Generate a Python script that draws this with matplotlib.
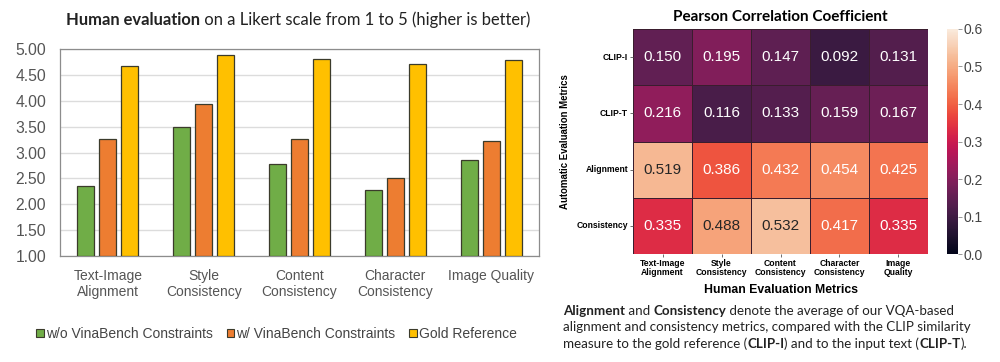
import matplotlib
matplotlib.use("Agg")
import matplotlib.pyplot as plt
import numpy as np
import seaborn as sns
from matplotlib.patches import Patch

# ---------------- data ----------------
categories = ["Text-Image\nAlignment", "Style\nConsistency", "Content\nConsistency",
              "Character\nConsistency", "Image Quality"]
series_names = ["w/o VinaBench Constraints", "w/ VinaBench Constraints", "Gold Reference"]
wo_vina = [2.35, 3.49, 2.78, 2.27, 2.85]
w_vina = [3.26, 3.93, 3.26, 2.51, 3.22]
gold = [4.68, 4.89, 4.81, 4.72, 4.79]
ytick_vals = [1.0, 1.5, 2.0, 2.5, 3.0, 3.5, 4.0, 4.5, 5.0]

heat_rows = ["CLIP-I", "CLIP-T", "Alignment", "Consistency"]
heat_cols = ["Text-Image\nAlignment", "Style\nConsistency", "Content\nConsistency",
             "Character\nConsistency", "Image\nQuality"]
clip_i = [0.150, 0.195, 0.147, 0.092, 0.131]
clip_t = [0.216, 0.116, 0.133, 0.159, 0.167]
alignment = [0.519, 0.386, 0.432, 0.454, 0.425]
consistency = [0.335, 0.488, 0.532, 0.417, 0.335]
cbar_ticks = [0.0, 0.1, 0.2, 0.3, 0.4, 0.5, 0.6]

colors = ["#70AD47", "#ED7D31", "#FFC000"]
edge = "#3b3b2b"

fig = plt.figure(figsize=(10, 3.62), dpi=100)

# ---------------- bar chart ----------------
ax = fig.add_axes([0.060, 0.2928, 0.479, 0.5718])
x = np.arange(len(categories))
w = 0.177
step = 0.229
for i, (vals, c) in enumerate(zip([wo_vina, w_vina, gold], colors)):
    ax.bar(x + (i - 1) * step, np.array(vals) - 1.0, bottom=1.0, width=w,
           color=c, edgecolor=edge, linewidth=0.9, zorder=3)
ax.set_xlim(-0.5, len(categories) - 0.5)
ax.set_ylim(1.0, 5.0)
ax.set_yticks(ytick_vals)
ax.set_yticklabels([f"{v:.2f}" for v in ytick_vals], fontsize=11.3,
                   family="Liberation Sans", color="#555555")
ax.set_xticks(x)
ax.set_xticklabels(categories, fontsize=10, family="Liberation Sans", color="#555555",
                   linespacing=1.2)
ax.tick_params(axis="y", length=0, pad=10)
ax.tick_params(axis="x", length=0, pad=9.5)
ax.grid(axis="y", color="#dcdcdc", linewidth=1.0, zorder=0)
for s in ax.spines.values():
    s.set_color("#8c8c8c")
    s.set_linewidth(0.9)

handles = [Patch(facecolor=c, edgecolor=edge, linewidth=0.8) for c in colors]
fig.legend(handles, series_names, loc="center", bbox_to_anchor=(0.2765, 0.077),
           ncol=3, frameon=False, handlelength=0.55, handleheight=0.55,
           handletextpad=0.15, columnspacing=1.0,
           prop={"family": "Liberation Sans", "size": 10}, labelcolor="#444444")

# helper: chained text pieces with mixed weights
bg = fig.add_axes([0, 0, 1, 1], zorder=-5)
bg.set_axis_off()


def chain(xf, yf, pieces, size, color="#222222", family="Lato"):
    t = bg.text(xf, yf, pieces[0][0], fontweight=pieces[0][1], fontsize=size,
                family=family, color=color, transform=fig.transFigure,
                va="bottom", ha="left")
    for s, wgt in pieces[1:]:
        t = bg.annotate(s, xy=(1, 0), xycoords=t, va="bottom", ha="left",
                        fontweight=wgt, fontsize=size, family=family, color=color)
    return t


chain(0.066, 0.922, [("Human evaluation", "bold"),
                     (" on a Likert scale from 1 to 5 (higher is better)", "normal")],
      11.9)

# ---------------- heatmap ----------------
hax = fig.add_axes([0.633, 0.298, 0.295, 0.622])
cax = fig.add_axes([0.947, 0.298, 0.011, 0.622])
data = np.array([clip_i, clip_t, alignment, consistency])
sns.heatmap(data, ax=hax, cbar_ax=cax, cmap="rocket", vmin=0.0, vmax=0.6,
            annot=True, fmt=".3f", annot_kws={"fontsize": 11, "family": "Liberation Sans"},
            linewidths=0.6, linecolor="#3a1d2e",
            xticklabels=heat_cols, yticklabels=heat_rows)
hax.set_xticklabels(heat_cols, rotation=0, fontsize=6.2, fontweight="bold",
                    family="Liberation Sans", linespacing=1.05)
hax.set_yticklabels(heat_rows, rotation=0, fontsize=6.2, fontweight="bold",
                    family="Liberation Sans")
hax.tick_params(axis="both", length=2.0, width=0.6, pad=1.5, color="#555555")
hax.set_xlabel("Human Evaluation Metrics", fontsize=8.8, fontweight="bold",
               family="Liberation Sans", labelpad=5)
hax.set_ylabel("Automatic Evaluation Metrics", fontsize=6.9, fontweight="bold",
               family="Liberation Sans", labelpad=5)
hax.set_title("Pearson Correlation Coefficient", fontsize=11, fontweight="bold",
              family="Lato", pad=6)
cax.set_yticks(cbar_ticks)
cax.set_yticklabels([f"{v:.1f}" for v in cbar_ticks], fontsize=10,
                    family="Liberation Sans", color="#444444")
cax.tick_params(length=3, width=0.6, pad=1, color="#888888")
for s in cax.spines.values():
    s.set_visible(False)

# ---------------- caption ----------------
cap = 9.6
chain(0.563, 0.124, [("Alignment", "bold"), (" and ", "normal"), ("Consistency", "bold"),
                     (" denote the average of our VQA-based", "normal")], cap)
chain(0.563, 0.079, [("alignment and consistency metrics, compared with the CLIP similarity",
                      "normal")], cap)
chain(0.563, 0.034, [("measure to the gold reference (", "normal"), ("CLIP-I", "bold"),
                     (") and to the input text (", "normal"), ("CLIP-T", "bold"),
                     (").", "normal")], cap)

fig.savefig("out.png", dpi=100)
